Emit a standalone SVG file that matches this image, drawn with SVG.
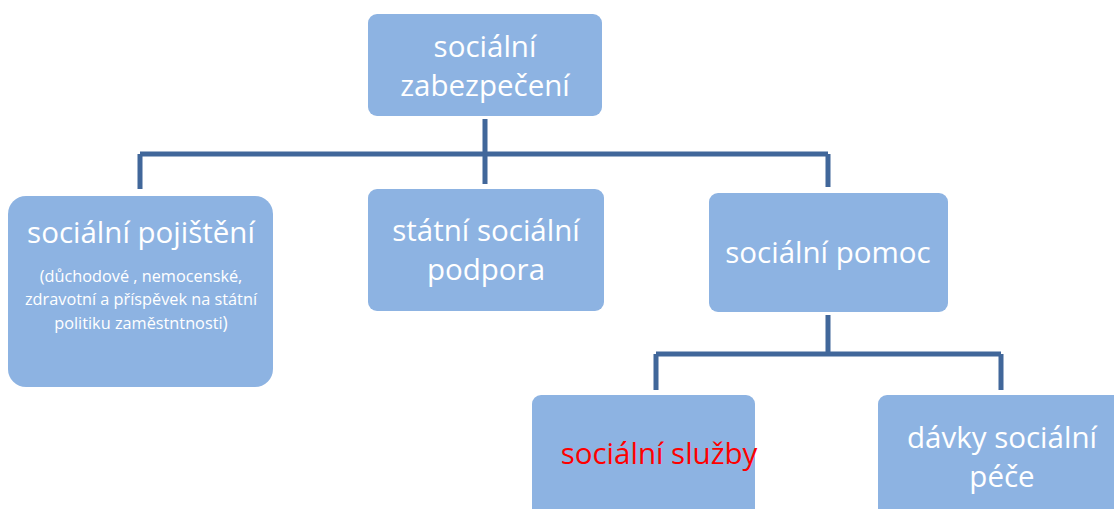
<svg xmlns="http://www.w3.org/2000/svg" width="1114" height="509" viewBox="0 0 1114 509">
<style>
.box{fill:#8db3e2;}
.t{font-family:"Open Sans","Liberation Sans",sans-serif;fill:#ffffff;text-anchor:middle;font-size:29.5px;}
.s{font-size:16.3px;}
.red{fill:#ff0000;}
.c{stroke:#41679a;stroke-width:5;fill:none;}
</style>
<rect width="1114" height="509" fill="#ffffff"/>
<g id="connectors">
<path class="c" d="M485 119 V184 M140 154 H828 M140 154 V189 M828 154 V187"/>
<path class="c" d="M828 315 V354 M656 354 H1001 M656 354 V390 M1001 354 V390"/>
</g>
<g id="n-zabezpeceni">
<rect class="box" x="368" y="14" width="234" height="102" rx="9"/>
<text class="t" x="485" y="57">sociální</text>
<text class="t" x="485" y="96">zabezpečení</text>
</g>
<g id="n-pojisteni">
<rect class="box" x="8" y="196" width="265" height="191" rx="18"/>
<text class="t" x="141" y="243">sociální pojištění</text>
<text class="t s" x="141" y="282">(důchodové , nemocenské,</text>
<text class="t s" x="141" y="305">zdravotní a příspěvek na státní</text>
<text class="t s" x="141" y="328.5">politiku zaměstntnosti<tspan font-size="17.5px">)</tspan></text>
</g>
<g id="n-podpora">
<rect class="box" x="368" y="189" width="236" height="122" rx="9"/>
<text class="t" x="486" y="241">státní sociální</text>
<text class="t" x="486" y="280">podpora</text>
</g>
<g id="n-pomoc">
<rect class="box" x="709" y="193" width="239" height="119" rx="9"/>
<text class="t" x="828" y="263">sociální pomoc</text>
</g>
<g id="n-sluzby">
<rect class="box" x="532" y="395" width="223" height="130" rx="9"/>
<text class="t red" x="659" y="464">sociální služby</text>
</g>
<g id="n-davky">
<rect class="box" x="878" y="395" width="250" height="130" rx="9"/>
<text class="t" x="1002" y="448">dávky sociální</text>
<text class="t" x="1002" y="487">péče</text>
</g>
</svg>
